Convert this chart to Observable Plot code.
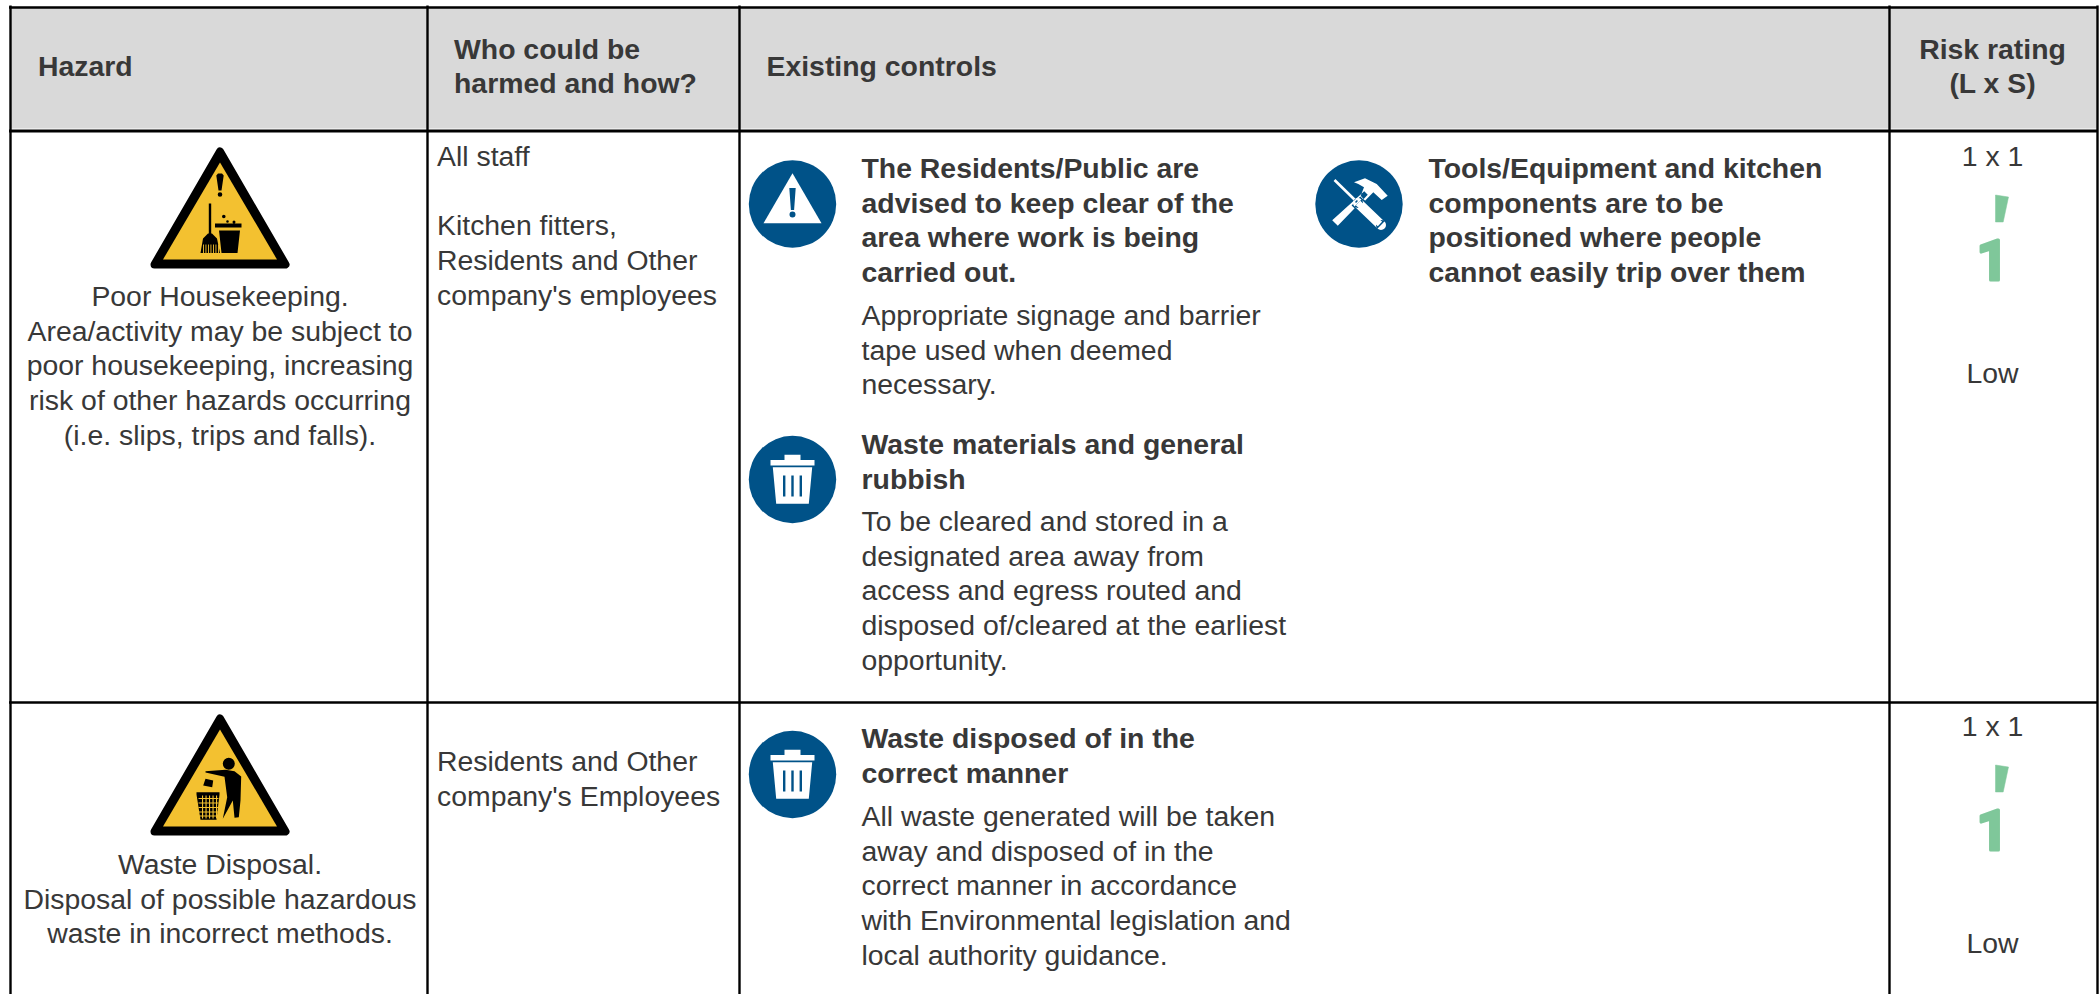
<!DOCTYPE html>
<html><head><meta charset="utf-8">
<style>html,body{margin:0;padding:0;background:#fff;overflow:hidden}svg{display:block}</style>
<script src="https://cdn.jsdelivr.net/npm/d3@7"></script>
<script src="https://cdn.jsdelivr.net/npm/@observablehq/plot@0.6"></script>
</head><body>
<script>
// ---------- table content ----------
const headerHazard = ["Hazard"];
const headerWho = ["Who could be", "harmed and how?"];
const headerControls = ["Existing controls"];
const headerRisk = ["Risk rating", "(L x S)"];
const hazard1 = ["Poor Housekeeping.", "Area/activity may be subject to", "poor housekeeping, increasing", "risk of other hazards occurring", "(i.e. slips, trips and falls)."];
const hazard2 = ["Waste Disposal.", "Disposal of possible hazardous", "waste in incorrect methods."];
const who1 = ["All staff", "", "Kitchen fitters,", "Residents and Other", "company's employees"];
const who2 = ["Residents and Other", "company's Employees"];
const control1Title = ["The Residents/Public are", "advised to keep clear of the", "area where work is being", "carried out."];
const control1Body = ["Appropriate signage and barrier", "tape used when deemed", "necessary."];
const control2Title = ["Waste materials and general", "rubbish"];
const control2Body = ["To be cleared and stored in a", "designated area away from", "access and egress routed and", "disposed of/cleared at the earliest", "opportunity."];
const control3Title = ["Tools/Equipment and kitchen", "components are to be", "positioned where people", "cannot easily trip over them"];
const control4Title = ["Waste disposed of in the", "correct manner"];
const control4Body = ["All waste generated will be taken", "away and disposed of in the", "correct manner in accordance", "with Environmental legislation and", "local authority guidance."];
const ratingFormula = ["1 x 1"];
const ratingScore = ["1"];
const ratingLabel = ["Low"];

// ---------- layout ----------
const W = 2100, H = 994, LH = 34.7, FS = 28.4;
const ink = "#383838", blue = "#005288", amber = "#f3c130", green = "#7fc79a", font = "Liberation Sans";
const colEdges = [10, 427, 739, 1889, 2097];
const rowEdges = [7, 130.5, 702];

const block = (lines, x, y, o = {}) => Plot.text(lines, {
  x: () => x, y: (d, i) => y + i * LH, text: d => d, fontFamily: font, fontSize: FS,
  fill: ink, textAnchor: "start", lineAnchor: "middle", ...o
});
const bold = {fontWeight: "bold"}, mid = {textAnchor: "middle"};

// icon glyphs, drawn by the dot mark as custom symbols in local pixel units
const shape = fn => ({draw(c) { fn(c); }});
const poly = (c, pts) => { pts.forEach(([x, y], i) => i ? c.lineTo(x, y) : c.moveTo(x, y)); c.closePath(); };
const disc = (c, x, y, r) => { c.moveTo(x + r, y); c.arc(x, y, r, 0, 2 * Math.PI); c.closePath(); };
const bar = (c, x1, y1, x2, y2, w1, w2 = w1) => {
  const a = Math.atan2(y2 - y1, x2 - x1), nx = -Math.sin(a) / 2, ny = Math.cos(a) / 2;
  poly(c, [[x1 + nx * w1, y1 + ny * w1], [x2 + nx * w2, y2 + ny * w2], [x2 - nx * w2, y2 - ny * w2], [x1 - nx * w1, y1 - ny * w1]]);
};
const icon = (x, y, glyph, fill, extra = {}) => Plot.dot([0], {x: () => x, y: () => y, r: 1, symbol: shape(glyph), fill, stroke: "none", ...extra});

const triOuter = shape(c => poly(c, [[0, -59], [65.5, 54], [-65.5, 54]]));
const warnSign = (x, y, extras) => [
  Plot.dot([0], {x: () => x, y: () => y, r: 1, symbol: triOuter, fill: "#000", stroke: "#000", strokeWidth: 8, strokeLinejoin: "round"}),
  icon(x, y, c => poly(c, [[0, -48], [57, 49], [-57, 49]]), amber),
  ...extras(x, y)
];
const broomSign = (x, y) => [
  icon(x, y, c => {
    poly(c, [[-3.7, -35], [-2, -37], [2, -37], [3.7, -35], [1.5, -20], [-1.5, -20]]);
    disc(c, 0, -16, 2.3);
    poly(c, [[-11.2, -7], [-8.8, -7], [-8.8, 24], [-11.2, 24]]);
    poly(c, [[-12, 23], [-8, 23], [-3, 28], [0, 42.5], [-19.5, 42.5], [-17, 28]]);
    poly(c, [[-5, 13], [21.5, 13], [21.5, 17], [-5, 17]]);
    poly(c, [[-1, 20], [20, 20], [17.5, 42.5], [1.5, 42.5]]);
    disc(c, 3.8, 6, 1.8); disc(c, 7.5, 11, 1.3); disc(c, 14, 11.5, 1.5);
  }, "#000"),
  icon(x, y, c => { for (const k of [-17, -14.5, -12, -9.5, -7, -4.5, -2]) poly(c, [[k, 34], [k + 0.9, 34], [k + 0.9, 42.5], [k, 42.5]]); }, amber)
];
const binManSign = (x, y) => [
  icon(x, y, c => {
    disc(c, 8.8, -13.7, 6);
    poly(c, [[-14.5, -6.3], [5.5, -7.7], [14.5, -6.3], [21.2, -1], [20.5, 23], [18.8, 39.7], [14.5, 40.3], [12.8, 23], [2.8, 41.3], [7.2, 19.7], [4.5, -0.7], [-14.5, -5]]);
    poly(c, [[-14.5, 1.3], [-6.8, 3], [-7.8, 9.7], [-16.8, 8]]);
    poly(c, [[-23.5, 14.7], [-0.5, 14.7], [-0.5, 17], [-3.5, 42.3], [-19.5, 42.3], [-23.5, 17]]);
  }, "#000"),
  icon(x, y, c => {
    for (const k of [-18, -14.5, -11, -7.5, -4]) poly(c, [[k, 18], [k + 1.1, 18], [k + 1.1, 41], [k, 41]]);
    for (const k of [20.5, 25, 29.5, 34, 38]) poly(c, [[-21.5, k], [-1.5, k], [-1.5, k + 1.1], [-21.5, k + 1.1]]);
  }, amber)
];
const badge = (x, y, layers) => [
  Plot.dot([0], {x: () => x, y: () => y, r: 43.7, fill: blue, stroke: "none"}),
  ...layers.map(([g, f, extra]) => icon(x, y, g, f, extra))
];
const warnBadge = (x, y) => badge(x, y, [
  [c => poly(c, [[0, -30.7], [29, 19.3], [-29, 19.3]]), "#fff"],
  [c => { poly(c, [[-3.2, -16], [3.2, -16], [1.6, 6], [-1.6, 6]]); disc(c, 0, 10.5, 3); }, blue]
]);
const binBadge = (x, y) => badge(x, y, [
  [c => {
    poly(c, [[-8, -24.7], [8, -24.7], [8, -19], [-8, -19]]);
    poly(c, [[-22, -19.5], [22, -19.5], [22, -14], [-22, -14]]);
    poly(c, [[-19.7, -12.3], [19.7, -12.3], [16.3, 24.3], [-16.3, 24.3]]);
  }, "#fff"],
  [c => { for (const k of [-9.5, -1.2, 7.1]) poly(c, [[k, -4], [k + 2.4, -4], [k + 2.4, 17], [k, 17]]); }, blue]
]);
const toolBadge = (x, y) => badge(x, y, [
  [c => {
    bar(c, -24, 19, 7, -11, 8, 5);
    poly(c, [[-5, -21.7], [6, -25.7], [17.7, -20], [28.7, -8.3], [22.7, -4], [14.3, -11.7], [6, -3.3], [1.7, -8.3], [5, -16.7], [-0.7, -20]]);
  }, "#fff"],
  [c => { bar(c, -2, -2, 22, 21, 9.5); }, "#fff", {stroke: blue, strokeWidth: 3}],
  [c => {
    bar(c, -24.5, -24, -2, -2, 2.6);
    bar(c, -1, -1, 22, 21, 10);
    disc(c, 22, 21, 5); disc(c, -1, -1, 5);
  }, "#fff"]
]);
const rating = (y) => [
  block(ratingFormula, 1992, y, mid),
  icon(1992, y + 51, c => poly(c, [[3, -13], [16, -11], [10.7, 14], [3, 14]]), green, {stroke: green, strokeWidth: 0.5, strokeLinejoin: "round"}),
  Plot.text(ratingScore, {x: () => 1992, y: () => y + 105, text: d => d, fontFamily: "Roboto", fontWeight: "bold", fontSize: 56, fill: green, stroke: green, strokeWidth: 3, strokeLinejoin: "round", lineAnchor: "middle", textAnchor: "middle"}),
  block(ratingLabel, 1992, y + 217, mid)
];

const chart = Plot.plot({
  width: W, height: H, margin: 0,
  x: {domain: [0, W], range: [0, W], axis: null},
  y: {domain: [0, H], range: [0, H], axis: null},
  style: {background: "#fff"},
  marks: [
    Plot.rect([0], {x1: () => colEdges[0], x2: () => colEdges[4], y1: () => rowEdges[0], y2: () => rowEdges[1] - 2, fill: "#d9d9d9"}),
    Plot.ruleX(colEdges, {y1: rowEdges[0] - 1.5, y2: H, stroke: "#000", strokeWidth: 2.4}),
    Plot.ruleY([rowEdges[0]], {x1: colEdges[0] - 1, x2: colEdges[4] + 1, stroke: "#000", strokeWidth: 2.4}),
    Plot.ruleY([rowEdges[1]], {x1: colEdges[0] - 1, x2: colEdges[4] + 1, stroke: "#000", strokeWidth: 3}),
    Plot.ruleY([rowEdges[2]], {x1: colEdges[0] - 1, x2: colEdges[4] + 1, stroke: "#000", strokeWidth: 2.4}),

    block(headerHazard, 37.5, 66.5, bold),
    block(headerWho, 453.5, 49, bold),
    block(headerControls, 766, 66.5, bold),
    block(headerRisk, 1992, 49, {...bold, ...mid}),

    ...warnSign(219.5, 210, broomSign),
    block(hazard1, 219.5, 296.5, mid),
    block(who1, 436.5, 156.5),
    ...warnBadge(792, 203.5),
    block(control1Title, 861, 168.5, bold),
    block(control1Body, 861, 315.5),
    ...binBadge(792, 479),
    block(control2Title, 861, 444.5, bold),
    block(control2Body, 861, 521.5),
    ...toolBadge(1358.5, 203.5),
    block(control3Title, 1428, 168.5, bold),
    ...rating(156.5),

    ...warnSign(219.5, 777, binManSign),
    block(hazard2, 219.5, 864.5, mid),
    block(who2, 436.5, 761.5),
    ...binBadge(792, 774),
    block(control4Title, 861, 738.5, bold),
    block(control4Body, 861, 816.5),
    ...rating(726.5)
  ]
});
document.body.appendChild(chart);
</script>
</body></html>
